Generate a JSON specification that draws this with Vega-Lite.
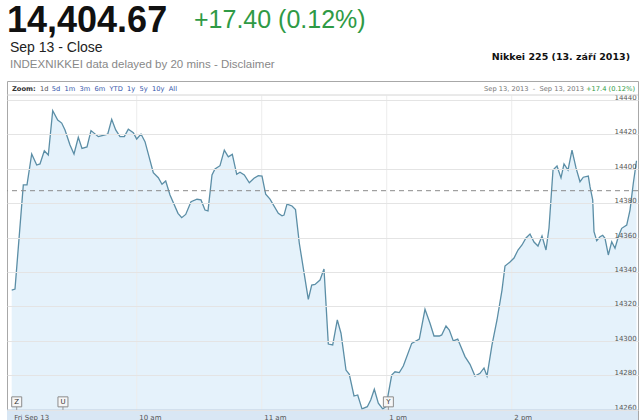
{
  "$schema": "https://vega.github.io/schema/vega-lite/v6.json",
  "width": 631,
  "height": 339,
  "autosize": "none",
  "padding": {"left": 7, "top": 81, "right": 2, "bottom": 0},
  "background": "white",
  "view": {"stroke": "#a8a8a8", "strokeWidth": 1},
  "config": {"font": "DejaVu Sans", "axis": {"labelOverlap": false}, "axisY": {"labelOverlap": false, "tickCount": 10}},
  "datasets": {
    "nikkei": [
      {"minute": 0, "close": 14329.5},
      {"minute": 1.58, "close": 14330.1},
      {"minute": 5.57, "close": 14390.6},
      {"minute": 7.34, "close": 14390.6},
      {"minute": 9.6, "close": 14408.6},
      {"minute": 12.0, "close": 14402.2},
      {"minute": 13.58, "close": 14402.8},
      {"minute": 15.65, "close": 14410.5},
      {"minute": 17.57, "close": 14408.0},
      {"minute": 19.68, "close": 14433.8},
      {"minute": 22.08, "close": 14428.4},
      {"minute": 24.0, "close": 14426.6},
      {"minute": 25.58, "close": 14422.6},
      {"minute": 27.98, "close": 14413.8},
      {"minute": 29.9, "close": 14408.6},
      {"minute": 31.97, "close": 14418.3},
      {"minute": 33.74, "close": 14411.9},
      {"minute": 36.14, "close": 14412.7},
      {"minute": 38.06, "close": 14422.2},
      {"minute": 41.57, "close": 14418.7},
      {"minute": 46.08, "close": 14420.1},
      {"minute": 48.0, "close": 14428.8},
      {"minute": 49.92, "close": 14422.6},
      {"minute": 51.98, "close": 14418.7},
      {"minute": 54.05, "close": 14418.7},
      {"minute": 55.97, "close": 14423.0},
      {"minute": 58.37, "close": 14421.0},
      {"minute": 60.0, "close": 14417.3},
      {"minute": 62.06, "close": 14420.2},
      {"minute": 63.98, "close": 14415.8},
      {"minute": 67.97, "close": 14397.7},
      {"minute": 70.37, "close": 14394.8},
      {"minute": 72.14, "close": 14391.0},
      {"minute": 73.92, "close": 14392.9},
      {"minute": 75.98, "close": 14384.8},
      {"minute": 79.82, "close": 14374.1},
      {"minute": 81.6, "close": 14371.6},
      {"minute": 83.52, "close": 14373.5},
      {"minute": 86.06, "close": 14380.9},
      {"minute": 88.94, "close": 14382.3},
      {"minute": 90.86, "close": 14381.9},
      {"minute": 92.78, "close": 14376.0},
      {"minute": 94.22, "close": 14375.5},
      {"minute": 96.14, "close": 14396.4},
      {"minute": 97.58, "close": 14399.9},
      {"minute": 99.98, "close": 14401.8},
      {"minute": 102.05, "close": 14410.9},
      {"minute": 103.97, "close": 14407.0},
      {"minute": 105.89, "close": 14408.4},
      {"minute": 108.0, "close": 14396.8},
      {"minute": 109.58, "close": 14398.0},
      {"minute": 111.65, "close": 14396.4},
      {"minute": 114.05, "close": 14391.9},
      {"minute": 116.3, "close": 14394.5},
      {"minute": 118.37, "close": 14396.0},
      {"minute": 120.14, "close": 14395.8},
      {"minute": 121.92, "close": 14385.2},
      {"minute": 123.98, "close": 14382.4},
      {"minute": 127.97, "close": 14374.1},
      {"minute": 129.74, "close": 14372.7},
      {"minute": 130.7, "close": 14373.1},
      {"minute": 132.14, "close": 14379.5},
      {"minute": 134.54, "close": 14378.4},
      {"minute": 136.22, "close": 14376.3},
      {"minute": 138.05, "close": 14356.7},
      {"minute": 142.37, "close": 14324.1},
      {"minute": 144.0, "close": 14332.4},
      {"minute": 145.58, "close": 14332.8},
      {"minute": 147.98, "close": 14335.3},
      {"minute": 149.9, "close": 14341.7},
      {"minute": 151.97, "close": 14298.1},
      {"minute": 154.08, "close": 14297.6},
      {"minute": 156.29, "close": 14312.1},
      {"minute": 158.06, "close": 14304.4},
      {"minute": 160.46, "close": 14283.0},
      {"minute": 162.05, "close": 14280.5},
      {"minute": 164.3, "close": 14267.9},
      {"minute": 166.08, "close": 14268.5},
      {"minute": 168.14, "close": 14260.4},
      {"minute": 170.69, "close": 14261.7},
      {"minute": 172.32, "close": 14265.6},
      {"minute": 174.05, "close": 14271.8},
      {"minute": 175.97, "close": 14263.7},
      {"minute": 178.08, "close": 14260.4},
      {"minute": 179.66, "close": 14261.7},
      {"minute": 182.4, "close": 14280.1},
      {"minute": 183.98, "close": 14282.0},
      {"minute": 186.05, "close": 14281.5},
      {"minute": 187.97, "close": 14285.3},
      {"minute": 192.0, "close": 14298.5},
      {"minute": 195.65, "close": 14301.0},
      {"minute": 198.38, "close": 14318.3},
      {"minute": 200.78, "close": 14310.2},
      {"minute": 202.7, "close": 14302.8},
      {"minute": 205.25, "close": 14302.8},
      {"minute": 206.4, "close": 14303.4},
      {"minute": 208.46, "close": 14308.6},
      {"minute": 210.05, "close": 14306.3},
      {"minute": 211.97, "close": 14299.9},
      {"minute": 214.08, "close": 14301.0},
      {"minute": 217.58, "close": 14290.8},
      {"minute": 219.98, "close": 14286.3},
      {"minute": 222.38, "close": 14279.5},
      {"minute": 224.78, "close": 14281.1},
      {"minute": 226.7, "close": 14284.2},
      {"minute": 228.14, "close": 14279.5},
      {"minute": 230.54, "close": 14297.6},
      {"minute": 232.94, "close": 14312.1},
      {"minute": 235.34, "close": 14329.5},
      {"minute": 236.78, "close": 14343.5},
      {"minute": 239.18, "close": 14345.8},
      {"minute": 241.1, "close": 14348.1},
      {"minute": 243.02, "close": 14352.8},
      {"minute": 244.94, "close": 14355.7},
      {"minute": 246.86, "close": 14359.8},
      {"minute": 248.78, "close": 14362.1},
      {"minute": 250.7, "close": 14357.4},
      {"minute": 252.62, "close": 14355.1},
      {"minute": 254.54, "close": 14360.9},
      {"minute": 256.46, "close": 14352.8},
      {"minute": 257.9, "close": 14365.6},
      {"minute": 259.82, "close": 14399.3},
      {"minute": 261.74, "close": 14401.6},
      {"minute": 263.66, "close": 14394.7},
      {"minute": 265.1, "close": 14402.8},
      {"minute": 267.02, "close": 14399.3},
      {"minute": 268.94, "close": 14410.9},
      {"minute": 270.86, "close": 14400.5},
      {"minute": 272.78, "close": 14392.5},
      {"minute": 274.37, "close": 14395.1},
      {"minute": 276.77, "close": 14395.8},
      {"minute": 277.58, "close": 14389.6},
      {"minute": 278.88, "close": 14381.9},
      {"minute": 279.5, "close": 14363.4},
      {"minute": 280.8, "close": 14358.2},
      {"minute": 282.38, "close": 14360.5},
      {"minute": 283.68, "close": 14361.3},
      {"minute": 284.78, "close": 14359.6},
      {"minute": 286.37, "close": 14349.9},
      {"minute": 288.0, "close": 14357.6},
      {"minute": 289.58, "close": 14353.8},
      {"minute": 291.17, "close": 14360.5},
      {"minute": 292.8, "close": 14365.4},
      {"minute": 295.2, "close": 14367.3},
      {"minute": 296.78, "close": 14376.0},
      {"minute": 298.37, "close": 14391.6},
      {"minute": 299.9, "close": 14404.67}
    ],
    "hours": [{"minute": 60}, {"minute": 120}, {"minute": 180}, {"minute": 240}],
    "ylevels": [
      {"close": 14260}, {"close": 14280}, {"close": 14300}, {"close": 14320}, {"close": 14340},
      {"close": 14360}, {"close": 14380}, {"close": 14400}, {"close": 14420}, {"close": 14440}
    ],
    "flags": [
      {"minute": 2.4, "flag": "Z"},
      {"minute": 24.6, "flag": "U"},
      {"minute": 180.8, "flag": "Y"}
    ]
  },
  "layer": [
    {
      "data": {"name": "nikkei"},
      "mark": {"type": "area", "fill": "#e5f2fb", "opacity": 1},
      "encoding": {
        "x": {
          "field": "minute", "type": "quantitative",
          "scale": {"domain": [-2.26, 300.62], "nice": false, "zero": false},
          "axis": {
            "orient": "bottom", "values": [0, 60, 120, 180, 240],
            "labelExpr": "datum.value == 0 ? 'Fri Sep 13' : datum.value == 60 ? '10 am' : datum.value == 120 ? '11 am' : datum.value == 180 ? '1 pm' : '2 pm'",
            "labelAlign": "left", "labelFlush": false, "labelOffset": 2, "labelOverlap": false,
            "labelBaseline": "top", "labelPadding": -7, "ticks": false, "tickSize": 0,
            "domain": false, "grid": false, "title": null, "zindex": 2,
            "labelFont": "DejaVu Sans", "labelFontSize": 7, "labelColor": "#555555"
          }
        },
        "y": {
          "field": "close", "type": "quantitative",
          "scale": {"domain": [14253.95, 14451.05], "nice": false, "zero": false},
          "axis": {
            "orient": "right", "values": [14260, 14280, 14300, 14320, 14340, 14360, 14380, 14400, 14420, 14440],
            "labels": false, "ticks": false, "tickSize": 0, "domain": false, "grid": true, "gridColor": "#e4e4e4",
            "title": null, "zindex": 1
          }
        }
      }
    },
    {
      "data": {"name": "hours"},
      "mark": {"type": "rule", "stroke": "#ececec", "strokeWidth": 1},
      "encoding": {
        "x": {"field": "minute", "type": "quantitative"},
        "y": {"datum": 14442.5},
        "y2": {"datum": 14259.8}
      }
    },
    {
      "data": {"name": "nikkei"},
      "mark": {"type": "line", "stroke": "#5b8ea6", "strokeWidth": 1.3},
      "encoding": {
        "x": {"field": "minute", "type": "quantitative"},
        "y": {"field": "close", "type": "quantitative"}
      }
    },
    {
      "data": {"values": [{}]},
      "mark": {"type": "rule", "stroke": "#8a8a8a", "strokeWidth": 1, "strokeDash": [5, 4]},
      "encoding": {"y": {"datum": 14387.27}}
    },
    {
      "data": {"name": "ylevels"},
      "mark": {"type": "text", "font": "DejaVu Sans", "fontSize": 7, "fill": "#555555", "align": "right", "baseline": "alphabetic", "dy": 0},
      "encoding": {
        "x": {"datum": 300.0},
        "y": {"field": "close", "type": "quantitative"},
        "text": {"field": "close", "type": "quantitative", "format": "d"}
      }
    },
    {
      "data": {"values": [{}]},
      "mark": {"type": "rule", "stroke": "#d4d4d4", "strokeWidth": 1},
      "encoding": {"y": {"datum": 14442.9}}
    },
    {
      "data": {"values": [{}]},
      "mark": {"type": "rect", "fill": "#d9e7f4"},
      "encoding": {"y": {"datum": 14259.8}, "y2": {"datum": 14253.95}}
    },
    {
      "data": {"values": [{}]},
      "mark": {"type": "rule", "stroke": "#c2d2e2", "strokeWidth": 1},
      "encoding": {"y": {"datum": 14259.8}}
    },
    {
      "data": {"name": "flags"},
      "mark": {"type": "rule", "stroke": "#999999", "strokeWidth": 1},
      "encoding": {
        "x": {"field": "minute", "type": "quantitative"},
        "y": {"datum": 14263},
        "y2": {"datum": 14259.8}
      }
    },
    {
      "data": {"name": "flags"},
      "mark": {"type": "point", "shape": "square", "size": 100, "filled": true, "fill": "#f6f6f6", "stroke": "#8c8c8c", "strokeWidth": 1, "opacity": 1},
      "encoding": {
        "x": {"field": "minute", "type": "quantitative"},
        "y": {"datum": 14264.5}
      }
    },
    {
      "data": {"name": "flags"},
      "mark": {"type": "text", "font": "DejaVu Sans", "fontSize": 7, "fill": "#333333", "baseline": "middle", "align": "center"},
      "encoding": {
        "x": {"field": "minute", "type": "quantitative"},
        "y": {"datum": 14264.5},
        "text": {"field": "flag"}
      }
    },
    {
      "data": {"values": [{}]},
      "mark": {"type": "text", "text": "14,404.67", "font": "Liberation Sans", "fontWeight": "bold", "fontSize": 36, "fill": "#111111", "align": "left", "baseline": "alphabetic"},
      "encoding": {"x": {"value": 0}, "y": {"value": -49}}
    },
    {
      "data": {"values": [{}]},
      "mark": {"type": "text", "text": "+17.40 (0.12%)", "font": "Liberation Sans", "fontSize": 25, "fill": "#2f9a45", "align": "left", "baseline": "alphabetic"},
      "encoding": {"x": {"value": 187}, "y": {"value": -53}}
    },
    {
      "data": {"values": [{}]},
      "mark": {"type": "text", "text": "Sep 13 - Close", "font": "Liberation Sans", "fontSize": 14, "fill": "#222222", "align": "left", "baseline": "alphabetic"},
      "encoding": {"x": {"value": 3}, "y": {"value": -29}}
    },
    {
      "data": {"values": [{}]},
      "mark": {"type": "text", "text": "INDEXNIKKEI data delayed by 20 mins - Disclaimer", "font": "Liberation Sans", "fontSize": 11.5, "fill": "#888888", "align": "left", "baseline": "alphabetic"},
      "encoding": {"x": {"value": 3}, "y": {"value": -13}}
    },
    {
      "data": {"values": [{}]},
      "mark": {"type": "text", "text": "Nikkei 225 (13. září 2013)", "font": "DejaVu Sans", "fontWeight": "bold", "fontSize": 9.5, "fill": "#111111", "align": "right", "baseline": "alphabetic"},
      "encoding": {"x": {"value": 623}, "y": {"value": -21}}
    },
    {
      "data": {"values": [{}]},
      "mark": {"type": "text", "text": "Zoom:", "font": "DejaVu Sans", "fontWeight": "bold", "fontSize": 6.7, "fill": "#333333", "align": "left", "baseline": "alphabetic"},
      "encoding": {"x": {"value": 5}, "y": {"value": 10}}
    },
    {
      "data": {"values": [{}]},
      "mark": {"type": "text", "text": "1d", "font": "DejaVu Sans", "fontSize": 6.7, "fill": "#555555", "align": "left", "baseline": "alphabetic"},
      "encoding": {"x": {"value": 33}, "y": {"value": 10}}
    },
    {
      "data": {"values": [{}]},
      "mark": {"type": "text", "text": "5d\u00a0\u00a01m\u00a0\u00a03m\u00a0\u00a06m\u00a0\u00a0YTD\u00a0\u00a01y\u00a0\u00a05y\u00a0\u00a010y\u00a0\u00a0All", "font": "DejaVu Sans", "fontSize": 6.7, "fill": "#3355aa", "align": "left", "baseline": "alphabetic"},
      "encoding": {"x": {"value": 44.7}, "y": {"value": 10}}
    },
    {
      "data": {"values": [{}]},
      "mark": {"type": "text", "text": "Sep 13, 2013\u00a0\u00a0-\u00a0\u00a0Sep 13, 2013", "font": "DejaVu Sans", "fontSize": 6.7, "fill": "#777777", "align": "right", "baseline": "alphabetic"},
      "encoding": {"x": {"value": 577}, "y": {"value": 10}}
    },
    {
      "data": {"values": [{}]},
      "mark": {"type": "text", "text": "+17.4 (0.12%)", "font": "DejaVu Sans", "fontSize": 6.7, "fill": "#2f9a45", "align": "right", "baseline": "alphabetic"},
      "encoding": {"x": {"value": 628}, "y": {"value": 10}}
    }
  ]
}
